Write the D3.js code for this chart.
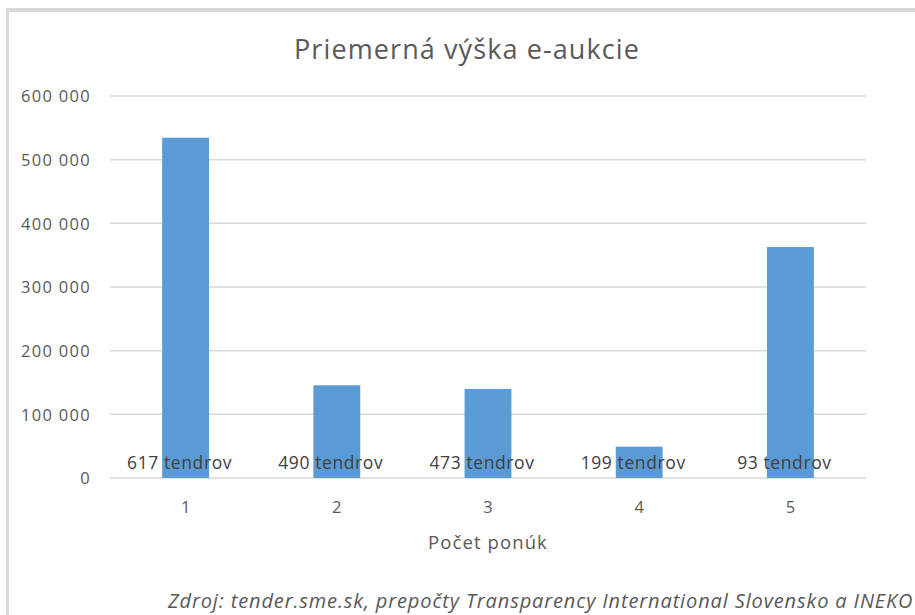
<!DOCTYPE html>
<html><head><meta charset="utf-8">
<script src="https://cdn.jsdelivr.net/npm/d3@7"></script>
<style>
html,body{margin:0;padding:0;background:#fff;}
svg{display:block;}
</style></head>
<body>
<script>
const categories = ["1","2","3","4","5"];
const values = [534500, 145600, 139800, 49200, 362800];
const barLabels = ["617 tendrov","490 tendrov","473 tendrov","199 tendrov","93 tendrov"];
const yTicks = [0,100000,200000,300000,400000,500000,600000];
const titleText = "Priemerná výška e-aukcie";
const xAxisTitle = "Počet ponúk";
const sourceText = "Zdroj: tender.sme.sk, prepočty Transparency International Slovensko a INEKO";

const W = 915, H = 615;
const font = "'Open Sans', 'DejaVu Sans', sans-serif";
const svg = d3.select("body").append("svg").attr("width", W).attr("height", H);

// border of chart box
svg.append("rect").attr("x",6).attr("y",8).attr("width",W-6).attr("height",4).attr("fill","#d9d9d9");
svg.append("rect").attr("x",6).attr("y",8).attr("width",3).attr("height",H-8).attr("fill","#d9d9d9");

const x = d3.scaleBand().domain(categories).range([110, 866]).paddingInner(0.69).paddingOuter(0.345);
const y = d3.scaleLinear().domain([0, 600000]).range([478, 96]);

const fmt = v => d3.format(",")(v).replace(/,/g, " ");

// gridlines
svg.append("g").selectAll("line").data(yTicks).join("line")
  .attr("x1",110).attr("x2",866)
  .attr("y1",d=>y(d)).attr("y2",d=>y(d))
  .attr("stroke","#d9d9d9").attr("stroke-width",1.5);

// y axis labels
const yAxis = d3.axisLeft(y).tickValues(yTicks).tickFormat(fmt).tickSize(0).tickPadding(0);
const gy = svg.append("g").attr("transform","translate(91,0)").call(yAxis);
gy.select(".domain").remove();
gy.selectAll("text").attr("font-family",font).attr("font-size",16.5).attr("letter-spacing","1.3px").attr("fill","#595959").attr("dy","0.35em");

// bars
svg.append("g").selectAll("rect").data(values).join("rect")
  .attr("x",(d,i)=>x(categories[i]))
  .attr("width",x.bandwidth())
  .attr("y",d=>y(d))
  .attr("height",d=>y(0)-y(d))
  .attr("fill","#5b9bd5");

// bar labels
svg.append("g").selectAll("text").data(barLabels).join("text")
  .attr("x",(d,i)=>x(categories[i])+x.bandwidth()/2-6)
  .attr("y",469)
  .attr("text-anchor","middle")
  .attr("font-family",font).attr("font-size",17.5).attr("letter-spacing","0.6px").attr("fill","#404040")
  .text(d=>d);

// x axis labels
const xAxis = d3.axisBottom(x).tickSize(0).tickPadding(0);
const gx = svg.append("g").attr("transform","translate(0,500)").call(xAxis);
gx.select(".domain").remove();
gx.selectAll("text").attr("font-family",font).attr("font-size",16.5).attr("fill","#595959").attr("dy","0.35em").attr("y",7);

// title
svg.append("text").attr("x",467).attr("y",59).attr("text-anchor","middle")
  .attr("font-family",font).attr("font-size",27).attr("letter-spacing","1.1px").attr("fill","#595959").text(titleText);

// x axis title
svg.append("text").attr("x",488).attr("y",549).attr("text-anchor","middle")
  .attr("font-family",font).attr("font-size",18.5).attr("letter-spacing","1.1px").attr("fill","#595959").text(xAxisTitle);

// source
svg.append("text").attr("x",168).attr("y",608)
  .attr("font-family",font).attr("font-size",20).attr("font-style","italic").attr("letter-spacing","0.87px").attr("fill","#595959").text(sourceText);
</script>
</body></html>
